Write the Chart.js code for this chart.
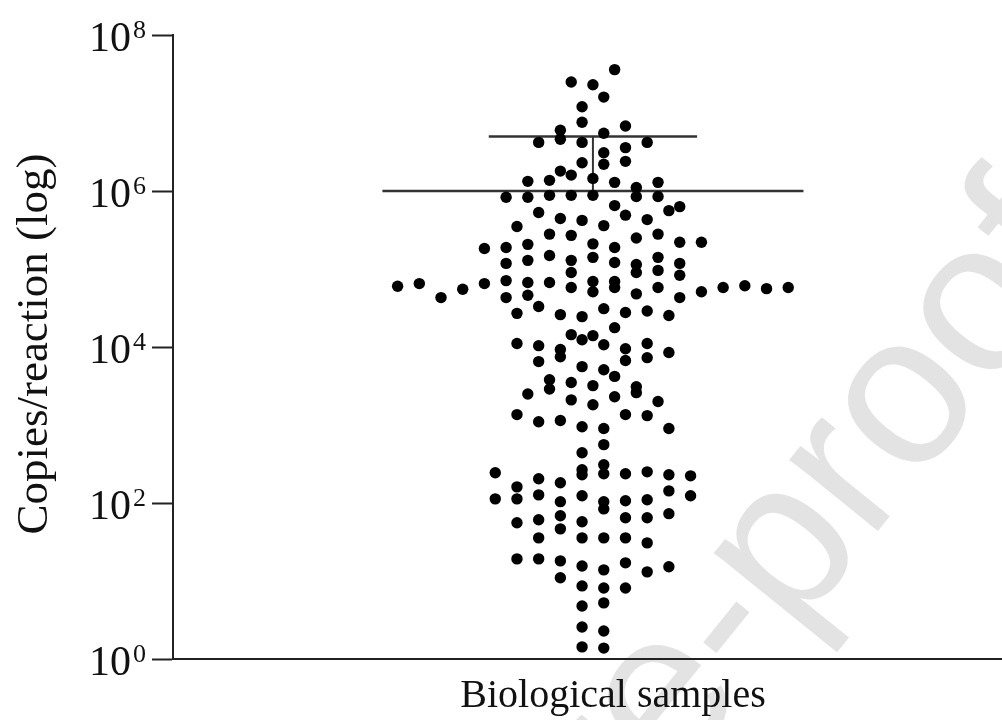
<!DOCTYPE html>
<html>
<head>
<meta charset="utf-8">
<script src="https://cdn.jsdelivr.net/npm/chart.js@4.4.1/dist/chart.umd.min.js"></script>
<style>
body { margin: 0; background: #fff; }
#wrap { width: 1002px; height: 720px; }
</style>
</head>
<body>
<div id="wrap"><canvas id="myChart"></canvas></div>
<script>
// DATA
let category = 'Biological samples';
let yTitle = 'Copies/reaction (log)';
let tickValues = [1, 1e2, 1e4, 1e6, 1e8];
let tickExponents = ['0', '2', '4', '6', '8'];
let meanValue = 1.0e6;
let sdUpper = 5.0e6;

// place in the swarm (1 = one dot width from the centre) and copies per reaction
let swarmX = [
  -1, 0, 1, -0.5, 0.5, -0.5, 1.5, -1.5, 0.5, -1.5,
  -2.5, -0.5, 2.5, 1.5, 0.5, 1.5, -0.5, 0.5, -1.5, -1,
  0, -2, -3, 1, 3, 2, -4, -3, -2, -1,
  0, 2, 3, 1, 4, 3.5, -2.5, 1.5, -1.5, 2.5,
  -0.5, 0.5, -3.5, -2, -1, 3, 2, 4, 5, 0,
  -3, -5, -4, 1, -2, 3, 0, -3, -1, 1,
  -4, 4, 2, 3, -1, 2, 4, -4, 0, 1,
  -3, -2, -8, -5, -9, 9, 6, -1, 1, 3,
  7, 8, -6, 0, 5, 2, -3, -7, -4, 4,
  -2.5, 0.5, 2.5, 1.5, -3.5, -1.5, 3.5, -0.5, 1, -1,
  0, -0.5, -3.5, 2.5, 0.5, -2.5, 1.5, -1.5, 3.5, -1.5,
  2.5, 1.5, -2.5, -0.5, 0.5, 1, -2, -1, 0, 2,
  -2, 2, -3, 1, -1, 3, 0, -3.5, 1.5, 2.5,
  -1.5, -2.5, -0.5, 0.5, 3.5, 0.5, -0.5, 0.5, -0.5, 0.5,
  -0.5, -4.5, 1.5, 2.5, 3.5, 4.5, -2.5, -1.5, -3.5, 3.5,
  -2.5, -0.5, 4.5, -4.5, -3.5, 2.5, 1.5, 0.5, -1.5, 0.5,
  3.5, -1.5, 2.5, 1.5, -2.5, -0.5, -3.5, -1.5, -2.5, -0.5,
  0.5, 1.5, 2.5, -3.5, -2.5, -1.5, 1.5, -0.5, 3.5, 0.5,
  2.5, -1.5, -0.5, 0.5, 1.5, 0.5, -0.5, -0.5, 0.5, -0.5, 0.5
];
let copies = [
  2.5e7, 2.3e7, 3.6e7, 1.2e7, 1.6e7, 7.6e6, 6.8e6, 6.0e6, 5.5e6, 4.6e6,
  4.2e6, 4.2e6, 4.2e6, 3.6e6, 3.1e6, 2.4e6, 2.3e6, 2.2e6, 1.8e6, 1.6e6,
  1.45e6, 1.37e6, 1.33e6, 1.29e6, 1.29e6, 1.11e6, 8.3e5, 8.3e5, 8.8e5, 8.8e5,
  8.8e5, 8.5e5, 8.5e5, 6.5e5, 6.3e5, 5.6e5, 5.3e5, 4.9e5, 4.45e5, 4.3e5,
  4.2e5, 3.6e5, 3.5e5, 2.8e5, 2.7e5, 2.8e5, 2.5e5, 2.2e5, 2.2e5, 2.1e5,
  2.07e5, 1.83e5, 1.89e5, 1.89e5, 1.49e5, 1.41e5, 1.41e5, 1.29e5, 1.29e5, 1.21e5,
  1.18e5, 1.18e5, 1.14e5, 9.6e4, 9.0e4, 9.0e4, 8.3e4, 7.1e4, 6.9e4, 6.9e4,
  6.7e4, 6.7e4, 6.5e4, 6.5e4, 6.0e4, 5.8e4, 5.8e4, 5.8e4, 5.8e4, 5.8e4,
  6.1e4, 5.6e4, 5.5e4, 5.1e4, 5.1e4, 4.8e4, 4.6e4, 4.3e4, 4.3e4, 4.3e4,
  3.3e4, 3.1e4, 2.9e4, 2.77e4, 2.7e4, 2.6e4, 2.53e4, 2.45e4, 1.77e4, 1.44e4,
  1.40e4, 1.24e4, 1.11e4, 1.11e4, 1.07e4, 1.04e4, 9.5e3, 9.3e3, 8.5e3, 7.5e3,
  7.3e3, 6.7e3, 6.5e3, 5.6e3, 5.1e3, 4.2e3, 3.8e3, 3.5e3, 3.2e3, 3.1e3,
  2.9e3, 2.6e3, 2.5e3, 2.3e3, 2.1e3, 2.0e3, 1.82e3, 1.36e3, 1.36e3, 1.32e3,
  1.14e3, 1.10e3, 950, 900, 900, 560, 440, 310, 267, 237,
  230, 244, 237, 251, 230, 223, 205, 182, 161, 143,
  127, 124, 124, 113, 113, 110, 107, 104, 104, 84,
  73, 68.5, 64.6, 64.6, 60.9, 57.4, 55.7, 46.6, 35.7, 35.7,
  35.7, 35.7, 30.8, 19.2, 19.2, 18.1, 17.1, 15.6, 15.2, 13.9,
  13.1, 11.0, 8.65, 8.15, 8.15, 5.24, 4.79, 2.57, 2.29, 1.43, 1.38
];

let points = swarmX.map((x, i) => ({ x: x, y: copies[i] }));

// TEXT: tick labels with exponents, axis titles, watermark
let textPlugin = {
  id: 'textPlugin',
  beforeDraw(chart) {
    let ctx = chart.ctx;
    ctx.save();
    ctx.translate(673, 784);
    ctx.rotate(-51 * Math.PI / 180);
    ctx.font = '215px "Liberation Sans"';
    ctx.fillStyle = '#e3e3e3';
    let w = ctx.measureText('Journal Pr').width;
    ctx.fillText('Journal Pre-proof', -w, 0);
    ctx.restore();
  },
  afterDraw(chart) {
    let ctx = chart.ctx;
    let y = chart.scales.y;
    let area = chart.chartArea;
    ctx.save();
    ctx.fillStyle = '#111';
    ctx.textBaseline = 'alphabetic';
    tickValues.forEach((v, i) => {
      let py = y.getPixelForValue(v);
      ctx.font = '42px "Liberation Serif"';
      ctx.textAlign = 'right';
      ctx.fillText('10', 131, py + 15.5);
      ctx.font = '26px "Liberation Serif"';
      ctx.textAlign = 'left';
      ctx.fillText(tickExponents[i], 133, py + 2.5);
    });

    ctx.font = '40px "Liberation Serif"';
    ctx.textAlign = 'center';
    ctx.fillText(category, 613, 707);

    ctx.translate(47, (area.top + area.bottom) / 2 - 3);
    ctx.rotate(-Math.PI / 2);
    ctx.font = '45px "Liberation Serif"';
    ctx.fillText(yTitle, 0, 0);
    ctx.restore();
  }
};

// CHART
let myChart = document.getElementById('myChart').getContext('2d');
window.chart = new Chart(myChart, {
  type: 'scatter',
  data: {
    datasets: [
      {
        label: category,
        data: points,
        pointRadius: 5.7,
        pointBackgroundColor: '#000',
        pointBorderWidth: 0
      },
      {
        label: 'Mean',
        data: [{ x: -9.7, y: meanValue }, { x: 9.7, y: meanValue }],
        showLine: true,
        pointRadius: 0,
        borderColor: '#333',
        borderWidth: 2.5
      },
      {
        label: 'SD',
        data: [{ x: -4.8, y: sdUpper }, { x: 4.8, y: sdUpper }],
        showLine: true,
        pointRadius: 0,
        borderColor: '#333',
        borderWidth: 2.5
      },
      {
        label: 'SD bar',
        data: [{ x: 0, y: meanValue }, { x: 0, y: sdUpper }],
        showLine: true,
        pointRadius: 0,
        borderColor: '#333',
        borderWidth: 2
      }
    ]
  },
  options: {
    responsive: true,
    maintainAspectRatio: false,
    animation: false,
    events: [],
    layout: { autoPadding: false, padding: { top: 35, right: 0, bottom: 0, left: 0 } },
    plugins: {
      legend: { display: false },
      tooltip: { enabled: false }
    },
    scales: {
      x: {
        type: 'linear',
        min: -19.35,
        max: 18.85,
        ticks: { display: false },
        grid: { display: false },
        border: { display: true, color: '#222', width: 2 },
        afterFit: (s) => { s.height = 61; }
      },
      y: {
        type: 'logarithmic',
        min: 1,
        max: 1e8,
        ticks: { display: false },
        afterBuildTicks: (s) => { s.ticks = tickValues.map(v => ({ value: v })); },
        grid: {
          display: true,
          drawOnChartArea: false,
          drawTicks: true,
          tickLength: 21,
          tickWidth: 2,
          tickColor: '#222',
          color: '#222'
        },
        border: { display: true, color: '#222', width: 2 },
        afterFit: (s) => { s.width = 173; }
      }
    }
  },
  plugins: [textPlugin]
});
</script>
</body>
</html>
